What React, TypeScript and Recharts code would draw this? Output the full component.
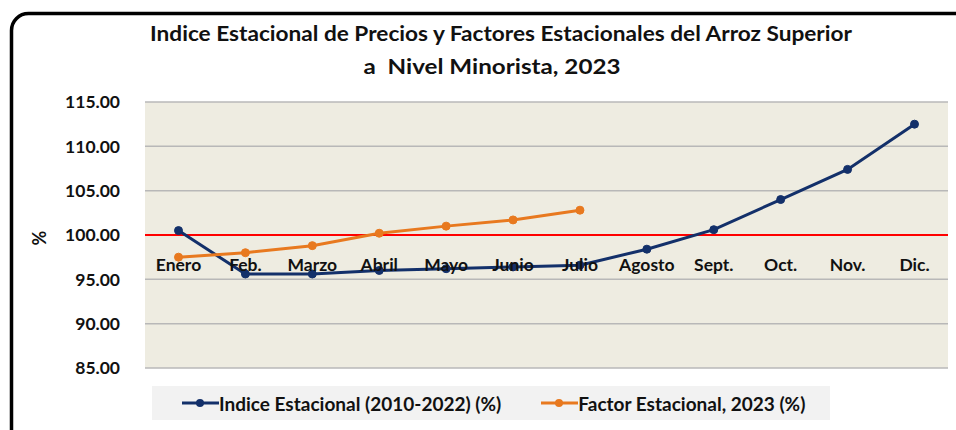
import React from "react";
import {
  LineChart,
  Line,
  XAxis,
  YAxis,
  CartesianGrid,
  ReferenceLine,
} from "recharts";

const MONTHS = [
  "Enero", "Feb.", "Marzo", "Abril", "Mayo", "Junio",
  "Julio", "Agosto", "Sept.", "Oct.", "Nov.", "Dic.",
];
const INDICE = [100.5, 95.6, 95.6, 96.0, 96.2, 96.4, 96.6, 98.4, 100.6, 104.0, 107.4, 112.5];
const FACTOR = [97.5, 98.0, 98.8, 100.2, 101.0, 101.7, 102.8];
const Y_TICKS = [85, 90, 95, 100, 105, 110, 115];

const NAVY = "#13306a";
const ORANGE = "#e8791f";
const FONT = "Lato, 'Open Sans', sans-serif";

const SERIES = [
  { key: "indice", name: "Indice Estacional (2010-2022) (%)", color: NAVY },
  { key: "factor", name: "Factor Estacional, 2023 (%)", color: ORANGE },
];

const data = MONTHS.map((m, i) => ({
  month: m,
  indice: INDICE[i],
  factor: i < FACTOR.length ? FACTOR[i] : null,
}));

// month labels sit just under the 100 line, not at the bottom of the plot
const MonthTick = ({ x, y, payload }: any) => (
  <text
    x={x}
    y={y - 103}
    dy="0.36em"
    textAnchor="middle"
    fontFamily={FONT}
    fontWeight={700}
    fontSize={17.5}
    fill="#111"
  >
    {payload.value}
  </text>
);

export default function App() {
  return (
    <div
      style={{
        position: "absolute",
        left: 0,
        top: 0,
        width: 956,
        height: 430,
        background: "#fff",
        overflow: "hidden",
      }}
    >
      <LineChart
        width={956}
        height={430}
        data={data}
        margin={{ top: 102, right: 8, bottom: 61, left: 0 }}
      >
        <CartesianGrid
          vertical={false}
          fill="#eeece1"
          stroke="#b8b8b8"
          strokeWidth={1.5}
        />
        <XAxis
          dataKey="month"
          tick={<MonthTick />}
          tickLine={false}
          axisLine={false}
          tickSize={0}
          tickMargin={0}
          height={1}
          interval={0}
          padding={{ left: 33.5, right: 33.5 }}
        />
        <YAxis
          width={145}
          domain={[85, 115]}
          ticks={Y_TICKS}
          tickFormatter={(v) => v.toFixed(2)}
          tickLine={false}
          axisLine={false}
          tickSize={0}
          tickMargin={25}
          tick={{ fill: "#111", fontSize: 17.5, fontWeight: 700, fontFamily: FONT }}
        />
        <ReferenceLine y={100} stroke="#ff0000" strokeWidth={2} />
        <Line
          dataKey="indice"
          name={SERIES[0].name}
          stroke={NAVY}
          strokeWidth={3}
          dot={{ r: 4, fill: NAVY, stroke: NAVY, strokeWidth: 1 }}
          isAnimationActive={false}
        />
        <Line
          dataKey="factor"
          name={SERIES[1].name}
          stroke={ORANGE}
          strokeWidth={3}
          dot={{ r: 4, fill: ORANGE, stroke: ORANGE, strokeWidth: 1 }}
          isAnimationActive={false}
        />
      </LineChart>

      <svg
        width={956}
        height={430}
        style={{ position: "absolute", left: 0, top: 0, pointerEvents: "none" }}
      >
        <rect
          x={11.5}
          y={13.5}
          width={970}
          height={440}
          rx={17}
          fill="none"
          stroke="#000"
          strokeWidth={3.5}
        />
        <text
          x={501}
          y={41}
          textAnchor="middle"
          fontFamily={FONT}
          fontWeight={700}
          fontSize={20}
          fill="#111"
          textLength={702}
          lengthAdjust="spacingAndGlyphs"
        >
          Indice Estacional de Precios y Factores Estacionales del Arroz Superior
        </text>
        <text
          x={492}
          y={74}
          textAnchor="middle"
          fontFamily={FONT}
          fontWeight={700}
          fontSize={20}
          fill="#111"
          xmlSpace="preserve"
          textLength={257}
          lengthAdjust="spacingAndGlyphs"
        >
          a  Nivel Minorista, 2023
        </text>
        <text
          transform="translate(40,238) rotate(-90)"
          textAnchor="middle"
          dy="0.36em"
          fontFamily={FONT}
          fontWeight={700}
          fontSize={18}
          fill="#111"
        >
          %
        </text>
      </svg>

      <div
        style={{
          position: "absolute",
          left: 152,
          top: 386,
          width: 678,
          height: 34,
          background: "#f2f2f2",
          display: "flex",
          alignItems: "center",
          paddingLeft: 30,
          boxSizing: "border-box",
          fontFamily: FONT,
          fontWeight: 700,
          fontSize: 19,
          color: "#111",
        }}
      >
        {SERIES.map((s, i) => (
          <div
            key={s.key}
            style={{ display: "flex", alignItems: "center", marginLeft: i ? 40 : 0 }}
          >
            <svg width={37} height={10}>
              <line x1={0} y1={5} x2={37} y2={5} stroke={s.color} strokeWidth={3} />
              <circle cx={18} cy={5} r={4} fill={s.color} />
            </svg>
            <span>{s.name}</span>
          </div>
        ))}
      </div>
    </div>
  );
}
